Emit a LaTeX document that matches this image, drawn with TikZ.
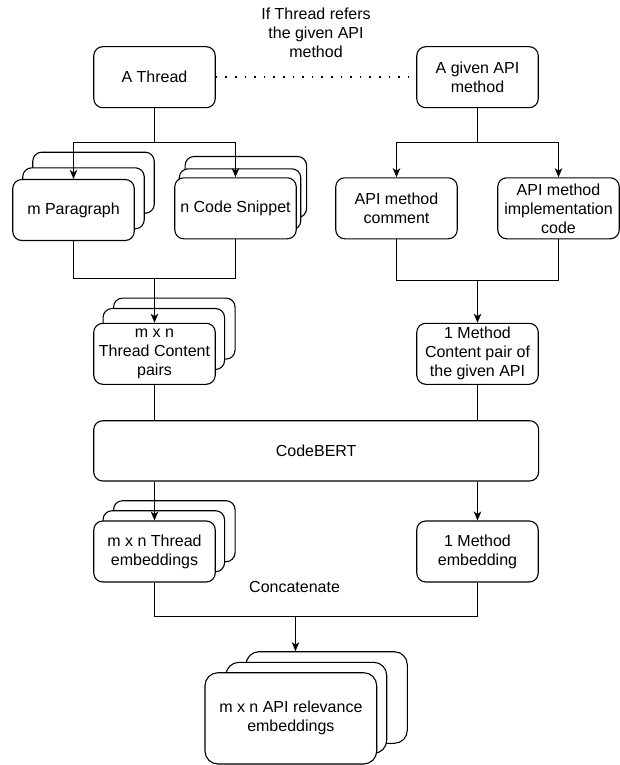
\documentclass[tikz,border=0pt]{standalone}
\usepackage{fontspec}
\setmainfont{Liberation Sans}
\usetikzlibrary{arrows.meta,calc}
\begin{document}
\begin{tikzpicture}[x=1pt,y=-1pt,
  txt/.style={font=\fontsize{16}{19}\selectfont, align=center, inner sep=0pt},
  box/.style={txt, draw, line width=1.1pt, rounded corners=9pt, fill=white,
    minimum width=121.5pt, minimum height=61pt},
  bigbox/.style={box, rounded corners=13pt, minimum height=91.3pt},
  conn/.style={draw, line width=1.1pt},
  arr/.style={conn, -{Stealth[length=9pt,width=7.5pt,inset=2.5pt]}},
  dotline/.style={draw, line width=1.6pt, dash pattern=on 1.6pt off 8pt}
]
\useasboundingbox (0,0) rectangle (620,765);

% top row
\node[box] (thread) at (154.5,77.2) {A Thread};
\node[box] (api) at (477.5,77.2) {A given API\\method};
\node[txt] (cond) at (316,32.8) {If Thread refers\\the given API\\method};

% paragraph stack
\node[box] (parab) at (93.5,182.7) {};
\node[box] (param) at (83.5,198.3) {};
\node[box] (para) at (73.5,210) {m Paragraph};

% code snippet stack
\node[box] (snipb) at (245.85,187) {};
\node[box] (snipm) at (240,199.3) {};
\node[box] (snip) at (235.5,208.3) {n Code Snippet};

% API parts
\node[box] (comment) at (396.5,208.3) {API method\\comment};
\node[box] (impl) at (558.5,208.3) {API method\\implementation\\code};

% thread content pairs stack
\node[box] (tcpb) at (174.3,328.6) {};
\node[box] (tcpm) at (163.8,339) {};
\node[box] (tcp) at (154.5,353.8) {m x n\\Thread Content\\pairs};

\node[box] (mcp) at (477.5,353.8) {1 Method\\Content pair of\\the given API};

% CodeBERT
\node[box, minimum width=444.9pt, minimum height=60.3pt] (bert) at (316.15,450.85) {CodeBERT};

% embeddings
\node[box] (tembb) at (174.3,531.2) {};
\node[box] (tembm) at (163.8,541.2) {};
\node[box] (temb) at (154.5,551.5) {m x n Thread\\embeddings};

\node[box] (memb) at (477.5,551.5) {1 Method\\embedding};

\node[txt] (concat) at (294.6,587.3) {Concatenate};

% relevance stack
\node[bigbox, minimum width=161.3pt, minimum height=91.6pt] (relb) at (326.65,697.5) {};
\node[bigbox, minimum width=160.7pt, minimum height=91pt] (relm) at (306.35,707.8) {};
\node[bigbox, minimum width=171.7pt] (rel) at (290.85,718.35) {m x n API relevance\\embeddings};

% connectors
\path[dotline] (thread.east) -- (api.west);

\coordinate (j1) at (154.5,142.5);
\path[conn] (thread.south) -- (j1);
\path[arr] (j1) -| (para.north);
\path[arr] (j1) -| (snip.north);

\coordinate (j2) at (477.5,142.5);
\path[conn] (api.south) -- (j2);
\path[arr] (j2) -| (comment.north);
\path[arr] (j2) -| (impl.north);

\coordinate (j3) at (154.5,278.5);
\path[conn] (para.south) |- (j3);
\path[conn] (snip.south) |- (j3);
\path[arr] (j3) -- (tcp.north);

\coordinate (j4) at (477.5,280.5);
\path[conn] (comment.south) |- (j4);
\path[conn] (impl.south) |- (j4);
\path[arr] (j4) -- (mcp.north);

\path[conn] (tcp.south) -- (tcp.south |- bert.north);
\path[conn] (mcp.south) -- (mcp.south |- bert.north);
\path[arr] (bert.south -| temb.north) -- (temb.north);
\path[arr] (bert.south -| memb.north) -- (memb.north);

\coordinate (j5) at (295.5,616.5);
\path[conn] (temb.south) |- (j5);
\path[conn] (memb.south) |- (j5);
\path[arr] (j5) -- (j5 |- relb.north);
\end{tikzpicture}
\end{document}
